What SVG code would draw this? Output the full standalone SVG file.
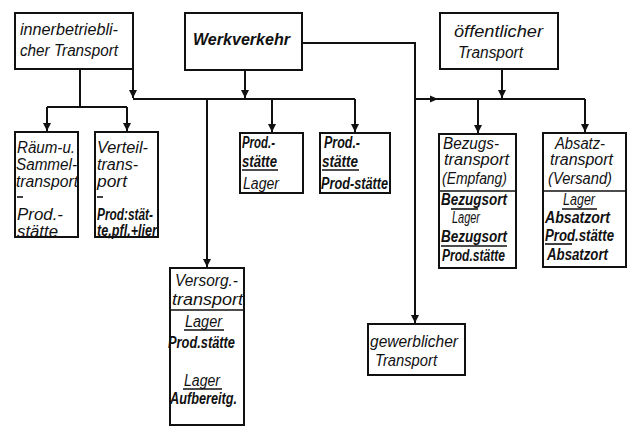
<svg xmlns="http://www.w3.org/2000/svg" width="628" height="427" viewBox="0 0 628 427">
<style>
.box{fill:#fff;stroke:#111;stroke-width:2}
.ln{fill:none;stroke:#111;stroke-width:2}
.ul{fill:none;stroke:#111;stroke-width:1.6}
text{font-family:"Liberation Sans",Arial,sans-serif;font-style:italic;font-size:16px;fill:#111}
.b{font-weight:bold}
</style>
<defs>
<marker id="ah" viewBox="0 0 10 10" refX="10" refY="5" markerWidth="4" markerHeight="5" orient="auto" markerUnits="strokeWidth">
<path d="M0,0 L10,5 L0,10 z" fill="#111"/>
</marker>
</defs>
<rect width="628" height="427" fill="#fff"/>

<g id="connectors">
<path class="ln" d="M80,69 V107"/>
<path class="ln" d="M47,107 H127"/>
<path class="ln" d="M47,107 V131" marker-end="url(#ah)"/>
<path class="ln" d="M127,107 V131" marker-end="url(#ah)"/>
<path class="ln" d="M133,69 V98" marker-end="url(#ah)"/>
<path class="ln" d="M133,99 H355"/>
<path class="ln" d="M245,70 V98" marker-end="url(#ah)"/>
<path class="ln" d="M207,99 V267" marker-end="url(#ah)"/>
<path class="ln" d="M272,99 V132" marker-end="url(#ah)"/>
<path class="ln" d="M355,99 V132" marker-end="url(#ah)"/>
<path class="ln" d="M302,43 H415 V323" marker-end="url(#ah)"/>
<path class="ln" d="M415,99 H585"/>
<path d="M430,95.5 L438,99 L430,102.5 z" fill="#111"/>
<path class="ln" d="M502,69 V98" marker-end="url(#ah)"/>
<path class="ln" d="M478,99 V133" marker-end="url(#ah)"/>
<path class="ln" d="M585,99 V132" marker-end="url(#ah)"/>
</g>

<g id="innerbetrieblich">
<rect class="box" x="15" y="13" width="118" height="56"/>
<text x="20" y="35" textLength="98" lengthAdjust="spacingAndGlyphs">innerbetriebli-</text>
<text x="20" y="56" textLength="98" lengthAdjust="spacingAndGlyphs">cher Transport</text>
</g>

<g id="werkverkehr">
<rect class="box" x="185" y="13" width="117" height="57"/>
<text class="b" x="193" y="45" textLength="97" lengthAdjust="spacingAndGlyphs">Werkverkehr</text>
</g>

<g id="oeffentlich">
<rect class="box" x="440" y="13" width="118" height="56"/>
<text x="454" y="37" textLength="89" lengthAdjust="spacingAndGlyphs">öffentlicher</text>
<text x="458" y="58" textLength="65" lengthAdjust="spacingAndGlyphs">Transport</text>
</g>

<g id="raeum">
<rect class="box" x="15" y="132" width="63" height="105"/>
<text x="17" y="153" textLength="58" lengthAdjust="spacingAndGlyphs">Räum-u.</text>
<text x="16" y="170" textLength="61" lengthAdjust="spacingAndGlyphs">Sammel-</text>
<text x="16" y="187" textLength="62" lengthAdjust="spacingAndGlyphs">transport</text>
<path class="ul" d="M17,197 H23"/>
<text x="17" y="220" textLength="46" lengthAdjust="spacingAndGlyphs">Prod.-</text>
<text x="17" y="237" textLength="41" lengthAdjust="spacingAndGlyphs">stätte</text>
</g>

<g id="verteil">
<rect class="box" x="95" y="132" width="63" height="105"/>
<text x="97" y="153" textLength="51" lengthAdjust="spacingAndGlyphs">Verteil-</text>
<text x="97" y="170" textLength="41" lengthAdjust="spacingAndGlyphs">trans-</text>
<text x="97" y="187" textLength="30" lengthAdjust="spacingAndGlyphs">port</text>
<path class="ul" d="M97,197 H103"/>
<text class="b" x="97" y="220" textLength="56" lengthAdjust="spacingAndGlyphs">Prod:stät-</text>
<text class="b" x="97" y="236" textLength="60" lengthAdjust="spacingAndGlyphs">te,pfl.+lier</text>
</g>

<g id="prod-lager">
<rect class="box" x="240" y="133" width="63" height="60"/>
<text class="b" x="242" y="148" textLength="33" lengthAdjust="spacingAndGlyphs">Prod.-</text>
<text class="b" x="242" y="167" textLength="35" lengthAdjust="spacingAndGlyphs">stätte</text>
<path class="ul" d="M242,170 H278"/>
<text x="243" y="189" textLength="36" lengthAdjust="spacingAndGlyphs">Lager</text>
</g>

<g id="prod-prod">
<rect class="box" x="320" y="133" width="70" height="60"/>
<text class="b" x="324" y="148" textLength="36" lengthAdjust="spacingAndGlyphs">Prod.-</text>
<text class="b" x="322" y="167" textLength="36" lengthAdjust="spacingAndGlyphs">stätte</text>
<path class="ul" d="M322,170 H359"/>
<text class="b" x="321" y="189" textLength="67" lengthAdjust="spacingAndGlyphs">Prod-stätte</text>
</g>

<g id="versorg">
<rect class="box" x="170" y="268" width="74" height="157"/>
<text x="175" y="286" textLength="63" lengthAdjust="spacingAndGlyphs">Versorg.-</text>
<text x="172" y="305" textLength="71" lengthAdjust="spacingAndGlyphs">transport</text>
<path class="ul" d="M170,310 H244"/>
<text x="185" y="327" textLength="37" lengthAdjust="spacingAndGlyphs">Lager</text>
<path class="ul" d="M184,330 H224"/>
<text class="b" x="168" y="348" textLength="67" lengthAdjust="spacingAndGlyphs">Prod.stätte</text>
<text x="184" y="386" textLength="36" lengthAdjust="spacingAndGlyphs">Lager</text>
<path class="ul" d="M183,389 H222"/>
<text class="b" x="170" y="404" textLength="67" lengthAdjust="spacingAndGlyphs">Aufbereitg.</text>
</g>

<g id="bezugs">
<rect class="box" x="439" y="134" width="77" height="134"/>
<text x="443" y="149" textLength="56" lengthAdjust="spacingAndGlyphs">Bezugs-</text>
<text x="444" y="165" textLength="65" lengthAdjust="spacingAndGlyphs">transport</text>
<text x="442" y="184" textLength="65" lengthAdjust="spacingAndGlyphs">(Empfang)</text>
<path class="ul" d="M439,191 H516"/>
<text class="b" x="441" y="205" textLength="66" lengthAdjust="spacingAndGlyphs">Bezugsort</text>
<path class="ul" d="M451,209 H478"/>
<text x="452" y="223" textLength="28" lengthAdjust="spacingAndGlyphs">Lager</text>
<text class="b" x="441" y="242" textLength="66" lengthAdjust="spacingAndGlyphs">Bezugsort</text>
<path class="ul" d="M441,246 H507"/>
<text class="b" x="442" y="261" textLength="63" lengthAdjust="spacingAndGlyphs">Prod.stätte</text>
</g>

<g id="absatz">
<rect class="box" x="543" y="133" width="83" height="134"/>
<text x="555" y="149" textLength="50" lengthAdjust="spacingAndGlyphs">Absatz-</text>
<text x="550" y="165" textLength="63" lengthAdjust="spacingAndGlyphs">transport</text>
<text x="548" y="184" textLength="64" lengthAdjust="spacingAndGlyphs">(Versand)</text>
<path class="ul" d="M543,191 H626"/>
<text x="563" y="205" textLength="32" lengthAdjust="spacingAndGlyphs">Lager</text>
<path class="ul" d="M562,209 H597"/>
<text class="b" x="545" y="223" textLength="65" lengthAdjust="spacingAndGlyphs">Absatzort</text>
<text class="b" x="545" y="241" textLength="69" lengthAdjust="spacingAndGlyphs">Prod.stätte</text>
<path class="ul" d="M545,244 H572"/>
<text class="b" x="547" y="260" textLength="61" lengthAdjust="spacingAndGlyphs">Absatzort</text>
</g>

<g id="gewerblich">
<rect class="box" x="368" y="324" width="97" height="51"/>
<text x="370" y="347" textLength="88" lengthAdjust="spacingAndGlyphs">gewerblicher</text>
<text x="375" y="366" textLength="62" lengthAdjust="spacingAndGlyphs">Transport</text>
</g>
</svg>
